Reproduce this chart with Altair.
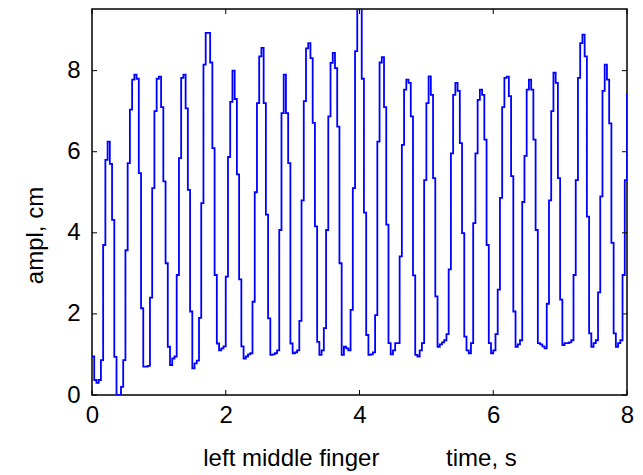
import altair as alt
import pandas as pd

# sampled finger amplitude (cm), one value per 1/30 s from 0 to 8 s
seg0 = [0.95, 0.37, 0.30, 0.37, 0.86, 3.70, 5.80]
c1 = [6.25, 5.70, 4.32, 0.94, 0.00, 0.00, 0.20, 0.86, 3.57, 5.72, 7.04, 7.78]
c2 = [7.90, 7.80, 5.47, 2.14, 0.70, 0.70, 0.72, 2.40, 5.10, 7.00, 7.80]
c3 = [7.85, 7.10, 5.27, 3.25, 1.19, 0.74, 0.90, 0.95, 2.96, 5.84, 7.82]
c4 = [7.90, 7.07, 5.06, 2.06, 0.66, 0.78, 0.85, 1.90, 4.73, 8.15]
c5 = [8.93, 8.93, 8.20, 6.09, 2.96, 1.27, 1.10, 1.15, 1.20, 2.92, 5.87, 7.23]
c6 = [8.00, 7.30, 5.44, 2.85, 1.20, 0.90, 0.95, 1.00, 1.03, 2.30, 5.00, 7.20]
c7 = [8.35, 8.56, 7.20, 4.45, 1.89, 0.99, 1.00, 1.03, 1.10, 4.07, 6.95]
c8 = [7.90, 6.95, 5.72, 1.27, 1.03, 1.05, 1.10, 1.83, 4.80, 7.25]
c9 = [8.55, 8.68, 8.31, 6.71, 4.16, 1.31, 0.99, 1.10, 1.65, 4.07, 6.87, 8.19]
c10 = [8.44, 8.06, 6.62, 3.25, 0.99, 1.19, 1.15, 1.10, 2.10, 5.10, 8.48]
c11 = [9.55, 9.55, 7.80, 4.50, 1.48, 0.99, 1.00, 1.05, 1.97, 6.25]
c12 = [8.20, 8.33, 7.10, 4.20, 1.28, 1.00, 1.10, 1.28, 1.28, 3.42, 6.17, 7.53]
c13 = [7.78, 7.70, 6.87, 2.95, 0.99, 0.95, 1.10, 1.28, 5.30, 7.20]
c14 = [7.86, 7.40, 5.35, 2.43, 1.19, 1.25, 1.30, 1.35, 1.50, 3.10, 5.96, 7.40]
c15 = [7.70, 7.50, 6.21, 3.99, 1.44, 1.10, 1.03, 1.28, 4.24, 5.96, 7.28]
c16 = [7.53, 7.40, 6.30, 3.70, 1.28, 1.03, 1.10, 1.50, 2.60, 4.86, 7.10]
c17 = [7.82, 7.85, 7.37, 5.40, 2.06, 1.19, 1.25, 1.35, 4.76, 5.90, 7.53]
c18 = [7.78, 7.53, 6.30, 4.07, 1.28, 1.25, 1.20, 1.15, 2.25, 4.80, 7.00]
c19 = [7.95, 7.70, 5.35, 2.35, 1.23, 1.28, 1.28, 1.30, 1.35, 2.96, 5.30, 7.82]
c20 = [8.68, 8.89, 8.35, 4.40, 1.52, 1.19, 1.28, 1.35, 2.53, 4.90, 7.50]
c21 = [8.15, 7.78, 6.70, 3.75, 1.52, 1.19, 1.28, 1.35, 2.96, 5.30, 7.45]

x_ticks = [0, 2, 4, 6, 8]
y_ticks = [0, 2, 4, 6, 8]

amp = (seg0 + c1 + c2 + c3 + c4 + c5 + c6 + c7 + c8 + c9 + c10 + c11 + c12
       + c13 + c14 + c15 + c16 + c17 + c18 + c19 + c20 + c21)
sample_rate = 30
time = [i / sample_rate for i in range(len(amp))]

df = pd.DataFrame({"t": time, "a": amp})

W, H = 535, 386
xs = alt.Scale(domain=[0, 8], nice=False, zero=False)
ys = alt.Scale(domain=[0, 9.52], nice=False, zero=False)

line = alt.Chart(df).mark_line(
    color="#0000ff", strokeWidth=1.8, interpolate="step-after", clip=True
).encode(
    x=alt.X("t:Q", scale=xs, axis=alt.Axis(
        values=x_ticks, format="d",
        title="left middle finger" + "\u00a0" * 10 + "time, s",
        labelFlush=False, labelOverlap=False, labelPadding=8,
        titleY=70, titleBaseline="alphabetic")),
    y=alt.Y("a:Q", scale=ys, axis=alt.Axis(
        values=y_ticks, format="d", title="ampl, cm", labelPadding=12,
        labelOverlap=False, titleX=-45, titleY=226, titleBaseline="bottom")),
)

tx = pd.DataFrame({"x": x_ticks})
ty = pd.DataFrame({"y": y_ticks})
tl = 5
bottom_t = alt.Chart(tx).mark_rule(color="black", strokeWidth=1).encode(
    x=alt.X("x:Q", scale=xs), y=alt.value(H), y2=alt.value(H - tl))
top_t = alt.Chart(tx).mark_rule(color="black", strokeWidth=1).encode(
    x=alt.X("x:Q", scale=xs), y=alt.value(0), y2=alt.value(tl))
left_t = alt.Chart(ty).mark_rule(color="black", strokeWidth=1).encode(
    y=alt.Y("y:Q", scale=ys), x=alt.value(0), x2=alt.value(tl))
right_t = alt.Chart(ty).mark_rule(color="black", strokeWidth=1).encode(
    y=alt.Y("y:Q", scale=ys), x=alt.value(W), x2=alt.value(W - tl))

chart = alt.layer(line, bottom_t, top_t, left_t, right_t).properties(
    width=W, height=H,
    autosize=alt.AutoSizeParams(type="none"),
    padding={"left": 84, "top": 1, "right": 8, "bottom": 80},
).configure_view(
    stroke="black", strokeWidth=1.5
).configure_axis(
    grid=False, domain=False, ticks=False, tickSize=0,
    labelFont="Liberation Sans", labelFontSize=24, labelColor="black",
    titleFont="Liberation Sans", titleFontSize=24, titleColor="black",
    titleFontWeight="normal",
)

chart.save("out.html", embed_options={"renderer": "svg", "actions": False})
